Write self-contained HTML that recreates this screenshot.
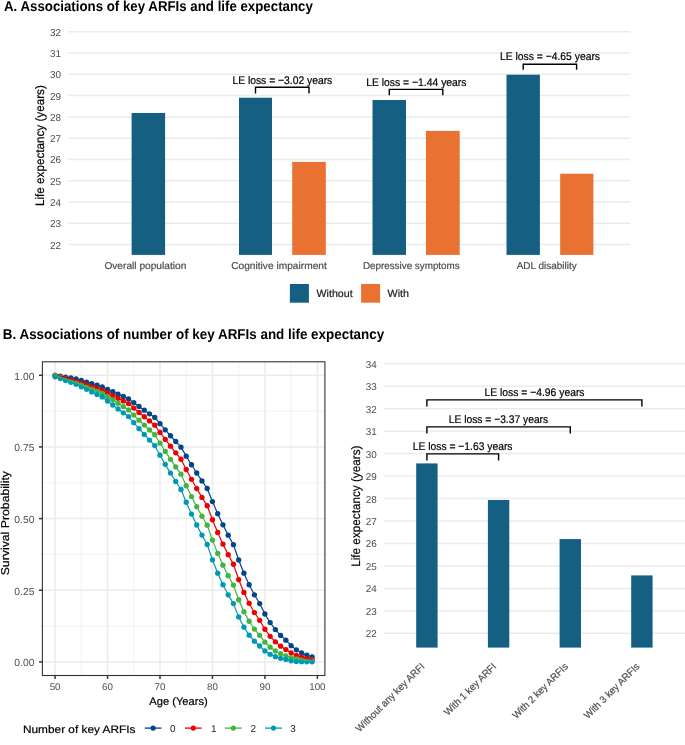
<!DOCTYPE html>
<html><head><meta charset="utf-8"><style>
html,body{margin:0;padding:0;background:#fff;width:685px;height:745px;overflow:hidden}
svg{display:block;will-change:transform}
text{font-family:"Liberation Sans",sans-serif;text-rendering:geometricPrecision}
</style></head><body>
<svg width="685" height="745" viewBox="0 0 685 745">
<rect width="685" height="745" fill="#fff"/>
<text x="4.00" y="10.90" font-size="14.35" font-weight="bold" fill="#000" text-anchor="start" textLength="308.8" lengthAdjust="spacingAndGlyphs">A. Associations of key ARFIs and life expectancy</text>
<line x1="68.2" x2="630.3" y1="244.50" y2="244.50" stroke="#EBEBEB" stroke-width="1.5"/>
<line x1="68.2" x2="630.3" y1="223.23" y2="223.23" stroke="#EBEBEB" stroke-width="1.5"/>
<line x1="68.2" x2="630.3" y1="201.96" y2="201.96" stroke="#EBEBEB" stroke-width="1.5"/>
<line x1="68.2" x2="630.3" y1="180.69" y2="180.69" stroke="#EBEBEB" stroke-width="1.5"/>
<line x1="68.2" x2="630.3" y1="159.42" y2="159.42" stroke="#EBEBEB" stroke-width="1.5"/>
<line x1="68.2" x2="630.3" y1="138.15" y2="138.15" stroke="#EBEBEB" stroke-width="1.5"/>
<line x1="68.2" x2="630.3" y1="116.88" y2="116.88" stroke="#EBEBEB" stroke-width="1.5"/>
<line x1="68.2" x2="630.3" y1="95.61" y2="95.61" stroke="#EBEBEB" stroke-width="1.5"/>
<line x1="68.2" x2="630.3" y1="74.34" y2="74.34" stroke="#EBEBEB" stroke-width="1.5"/>
<line x1="68.2" x2="630.3" y1="53.07" y2="53.07" stroke="#EBEBEB" stroke-width="1.5"/>
<line x1="68.2" x2="630.3" y1="31.80" y2="31.80" stroke="#EBEBEB" stroke-width="1.5"/>
<text x="61.00" y="248.50" font-size="9.94" fill="#4D4D4D" text-anchor="end">22</text>
<text x="61.00" y="227.23" font-size="9.94" fill="#4D4D4D" text-anchor="end">23</text>
<text x="61.00" y="205.96" font-size="9.94" fill="#4D4D4D" text-anchor="end">24</text>
<text x="61.00" y="184.69" font-size="9.94" fill="#4D4D4D" text-anchor="end">25</text>
<text x="61.00" y="163.42" font-size="9.94" fill="#4D4D4D" text-anchor="end">26</text>
<text x="61.00" y="142.15" font-size="9.94" fill="#4D4D4D" text-anchor="end">27</text>
<text x="61.00" y="120.88" font-size="9.94" fill="#4D4D4D" text-anchor="end">28</text>
<text x="61.00" y="99.61" font-size="9.94" fill="#4D4D4D" text-anchor="end">29</text>
<text x="61.00" y="78.34" font-size="9.94" fill="#4D4D4D" text-anchor="end">30</text>
<text x="61.00" y="57.07" font-size="9.94" fill="#4D4D4D" text-anchor="end">31</text>
<text x="61.00" y="35.80" font-size="9.94" fill="#4D4D4D" text-anchor="end">32</text>
<text x="43.70" y="206.00" font-size="12.24" fill="#000" stroke="#000" stroke-width="0.2" text-anchor="start" textLength="120.8" lengthAdjust="spacingAndGlyphs" transform="rotate(-90 43.70 206.00)">Life expectancy (years)</text>
<rect x="131.60" y="113.00" width="33.50" height="141.90" fill="#156082"/>
<rect x="239.00" y="97.70" width="33.00" height="157.20" fill="#156082"/>
<rect x="292.20" y="161.90" width="33.60" height="93.00" fill="#E97132"/>
<rect x="372.50" y="100.00" width="33.50" height="154.90" fill="#156082"/>
<rect x="426.00" y="130.90" width="33.70" height="124.00" fill="#E97132"/>
<rect x="506.50" y="74.70" width="33.40" height="180.20" fill="#156082"/>
<rect x="560.20" y="173.70" width="33.20" height="81.20" fill="#E97132"/>
<text x="104.40" y="268.80" font-size="9.94" fill="#4D4D4D" stroke="#4D4D4D" stroke-width="0.2" text-anchor="start" textLength="81.9" lengthAdjust="spacingAndGlyphs">Overall population</text>
<text x="231.20" y="268.80" font-size="9.94" fill="#4D4D4D" stroke="#4D4D4D" stroke-width="0.2" text-anchor="start" textLength="95.6" lengthAdjust="spacingAndGlyphs">Cognitive impairment</text>
<text x="362.90" y="268.80" font-size="9.94" fill="#4D4D4D" stroke="#4D4D4D" stroke-width="0.2" text-anchor="start" textLength="96.8" lengthAdjust="spacingAndGlyphs">Depressive symptoms</text>
<text x="516.70" y="268.80" font-size="9.94" fill="#4D4D4D" stroke="#4D4D4D" stroke-width="0.2" text-anchor="start" textLength="60.0" lengthAdjust="spacingAndGlyphs">ADL disability</text>
<text x="232.40" y="83.70" font-size="11.04" fill="#000" stroke="#000" stroke-width="0.2" text-anchor="start" textLength="99.9" lengthAdjust="spacingAndGlyphs">LE loss = −3.02 years</text>
<path d="M255.50 93.40V87.20H309.00V93.40" fill="none" stroke="#000" stroke-width="1.4"/>
<text x="366.20" y="85.90" font-size="11.04" fill="#000" stroke="#000" stroke-width="0.2" text-anchor="start" textLength="100.3" lengthAdjust="spacingAndGlyphs">LE loss = −1.44 years</text>
<path d="M389.30 95.20V89.40H442.80V95.20" fill="none" stroke="#000" stroke-width="1.4"/>
<text x="500.00" y="59.60" font-size="11.04" fill="#000" stroke="#000" stroke-width="0.2" text-anchor="start" textLength="100.0" lengthAdjust="spacingAndGlyphs">LE loss = −4.65 years</text>
<path d="M523.20 69.80V64.20H576.60V69.80" fill="none" stroke="#000" stroke-width="1.4"/>
<rect x="289.9" y="284.0" width="19.0" height="18.7" fill="#156082"/>
<rect x="361.1" y="284.0" width="19.0" height="18.7" fill="#E97132"/>
<text x="316.60" y="297.20" font-size="10.40" fill="#1A1A1A" stroke="#1A1A1A" stroke-width="0.2" text-anchor="start" textLength="36.0" lengthAdjust="spacingAndGlyphs">Without</text>
<text x="387.50" y="297.20" font-size="10.40" fill="#1A1A1A" stroke="#1A1A1A" stroke-width="0.2" text-anchor="start" textLength="21.5" lengthAdjust="spacingAndGlyphs">With</text>
<text x="2.80" y="338.70" font-size="14.35" font-weight="bold" fill="#000" text-anchor="start" textLength="381.4" lengthAdjust="spacingAndGlyphs">B. Associations of number of key ARFIs and life expectancy</text>
<line x1="81.33" x2="81.33" y1="361.80" y2="675.50" stroke="#EBEBEB" stroke-width="0.6"/>
<line x1="133.78" x2="133.78" y1="361.80" y2="675.50" stroke="#EBEBEB" stroke-width="0.6"/>
<line x1="186.22" x2="186.22" y1="361.80" y2="675.50" stroke="#EBEBEB" stroke-width="0.6"/>
<line x1="238.68" x2="238.68" y1="361.80" y2="675.50" stroke="#EBEBEB" stroke-width="0.6"/>
<line x1="291.12" x2="291.12" y1="361.80" y2="675.50" stroke="#EBEBEB" stroke-width="0.6"/>
<line x1="42.40" x2="324.90" y1="626.07" y2="626.07" stroke="#EBEBEB" stroke-width="0.6"/>
<line x1="42.40" x2="324.90" y1="554.42" y2="554.42" stroke="#EBEBEB" stroke-width="0.6"/>
<line x1="42.40" x2="324.90" y1="482.77" y2="482.77" stroke="#EBEBEB" stroke-width="0.6"/>
<line x1="42.40" x2="324.90" y1="411.12" y2="411.12" stroke="#EBEBEB" stroke-width="0.6"/>
<line x1="55.10" x2="55.10" y1="361.80" y2="675.50" stroke="#EBEBEB" stroke-width="1.5"/>
<line x1="107.55" x2="107.55" y1="361.80" y2="675.50" stroke="#EBEBEB" stroke-width="1.5"/>
<line x1="160.00" x2="160.00" y1="361.80" y2="675.50" stroke="#EBEBEB" stroke-width="1.5"/>
<line x1="212.45" x2="212.45" y1="361.80" y2="675.50" stroke="#EBEBEB" stroke-width="1.5"/>
<line x1="264.90" x2="264.90" y1="361.80" y2="675.50" stroke="#EBEBEB" stroke-width="1.5"/>
<line x1="317.35" x2="317.35" y1="361.80" y2="675.50" stroke="#EBEBEB" stroke-width="1.5"/>
<line x1="42.40" x2="324.90" y1="661.90" y2="661.90" stroke="#EBEBEB" stroke-width="1.5"/>
<line x1="42.40" x2="324.90" y1="590.25" y2="590.25" stroke="#EBEBEB" stroke-width="1.5"/>
<line x1="42.40" x2="324.90" y1="518.60" y2="518.60" stroke="#EBEBEB" stroke-width="1.5"/>
<line x1="42.40" x2="324.90" y1="446.95" y2="446.95" stroke="#EBEBEB" stroke-width="1.5"/>
<line x1="42.40" x2="324.90" y1="375.30" y2="375.30" stroke="#EBEBEB" stroke-width="1.5"/>
<circle cx="55.10" cy="375.30" r="2.65" fill="#00468B"/>
<circle cx="60.34" cy="376.18" r="2.65" fill="#00468B"/>
<circle cx="65.59" cy="377.05" r="2.65" fill="#00468B"/>
<circle cx="70.84" cy="377.92" r="2.65" fill="#00468B"/>
<circle cx="76.08" cy="378.79" r="2.65" fill="#00468B"/>
<circle cx="81.33" cy="380.42" r="2.65" fill="#00468B"/>
<circle cx="86.57" cy="382.05" r="2.65" fill="#00468B"/>
<circle cx="91.81" cy="383.66" r="2.65" fill="#00468B"/>
<circle cx="97.06" cy="385.27" r="2.65" fill="#00468B"/>
<circle cx="102.31" cy="386.87" r="2.65" fill="#00468B"/>
<circle cx="107.55" cy="389.31" r="2.65" fill="#00468B"/>
<circle cx="112.80" cy="391.74" r="2.65" fill="#00468B"/>
<circle cx="118.04" cy="394.14" r="2.65" fill="#00468B"/>
<circle cx="123.28" cy="396.52" r="2.65" fill="#00468B"/>
<circle cx="128.53" cy="398.88" r="2.65" fill="#00468B"/>
<circle cx="133.78" cy="402.71" r="2.65" fill="#00468B"/>
<circle cx="139.02" cy="406.47" r="2.65" fill="#00468B"/>
<circle cx="144.27" cy="410.19" r="2.65" fill="#00468B"/>
<circle cx="149.51" cy="413.85" r="2.65" fill="#00468B"/>
<circle cx="154.75" cy="417.46" r="2.65" fill="#00468B"/>
<circle cx="160.00" cy="423.71" r="2.65" fill="#00468B"/>
<circle cx="165.25" cy="429.80" r="2.65" fill="#00468B"/>
<circle cx="170.49" cy="435.73" r="2.65" fill="#00468B"/>
<circle cx="175.74" cy="441.51" r="2.65" fill="#00468B"/>
<circle cx="180.98" cy="447.15" r="2.65" fill="#00468B"/>
<circle cx="186.22" cy="456.14" r="2.65" fill="#00468B"/>
<circle cx="191.47" cy="464.76" r="2.65" fill="#00468B"/>
<circle cx="196.72" cy="473.02" r="2.65" fill="#00468B"/>
<circle cx="201.96" cy="480.93" r="2.65" fill="#00468B"/>
<circle cx="207.20" cy="488.51" r="2.65" fill="#00468B"/>
<circle cx="212.45" cy="501.58" r="2.65" fill="#00468B"/>
<circle cx="217.69" cy="513.66" r="2.65" fill="#00468B"/>
<circle cx="222.94" cy="524.84" r="2.65" fill="#00468B"/>
<circle cx="228.19" cy="535.16" r="2.65" fill="#00468B"/>
<circle cx="233.43" cy="544.72" r="2.65" fill="#00468B"/>
<circle cx="238.68" cy="559.96" r="2.65" fill="#00468B"/>
<circle cx="243.92" cy="573.22" r="2.65" fill="#00468B"/>
<circle cx="249.16" cy="584.76" r="2.65" fill="#00468B"/>
<circle cx="254.41" cy="594.80" r="2.65" fill="#00468B"/>
<circle cx="259.66" cy="603.53" r="2.65" fill="#00468B"/>
<circle cx="264.90" cy="613.98" r="2.65" fill="#00468B"/>
<circle cx="270.15" cy="622.57" r="2.65" fill="#00468B"/>
<circle cx="275.39" cy="629.62" r="2.65" fill="#00468B"/>
<circle cx="280.63" cy="635.40" r="2.65" fill="#00468B"/>
<circle cx="285.88" cy="640.15" r="2.65" fill="#00468B"/>
<circle cx="291.12" cy="645.71" r="2.65" fill="#00468B"/>
<circle cx="296.37" cy="649.85" r="2.65" fill="#00468B"/>
<circle cx="301.62" cy="652.93" r="2.65" fill="#00468B"/>
<circle cx="306.86" cy="655.23" r="2.65" fill="#00468B"/>
<circle cx="312.11" cy="656.93" r="2.65" fill="#00468B"/>
<circle cx="55.10" cy="375.30" r="2.65" fill="#ED0000"/>
<circle cx="60.34" cy="376.56" r="2.65" fill="#ED0000"/>
<circle cx="65.59" cy="377.82" r="2.65" fill="#ED0000"/>
<circle cx="70.84" cy="379.06" r="2.65" fill="#ED0000"/>
<circle cx="76.08" cy="380.31" r="2.65" fill="#ED0000"/>
<circle cx="81.33" cy="382.28" r="2.65" fill="#ED0000"/>
<circle cx="86.57" cy="384.24" r="2.65" fill="#ED0000"/>
<circle cx="91.81" cy="386.19" r="2.65" fill="#ED0000"/>
<circle cx="97.06" cy="388.12" r="2.65" fill="#ED0000"/>
<circle cx="102.31" cy="390.04" r="2.65" fill="#ED0000"/>
<circle cx="107.55" cy="392.80" r="2.65" fill="#ED0000"/>
<circle cx="112.80" cy="395.53" r="2.65" fill="#ED0000"/>
<circle cx="118.04" cy="398.24" r="2.65" fill="#ED0000"/>
<circle cx="123.28" cy="400.92" r="2.65" fill="#ED0000"/>
<circle cx="128.53" cy="403.57" r="2.65" fill="#ED0000"/>
<circle cx="133.78" cy="408.03" r="2.65" fill="#ED0000"/>
<circle cx="139.02" cy="412.42" r="2.65" fill="#ED0000"/>
<circle cx="144.27" cy="416.73" r="2.65" fill="#ED0000"/>
<circle cx="149.51" cy="420.97" r="2.65" fill="#ED0000"/>
<circle cx="154.75" cy="425.13" r="2.65" fill="#ED0000"/>
<circle cx="160.00" cy="432.38" r="2.65" fill="#ED0000"/>
<circle cx="165.25" cy="439.41" r="2.65" fill="#ED0000"/>
<circle cx="170.49" cy="446.22" r="2.65" fill="#ED0000"/>
<circle cx="175.74" cy="452.82" r="2.65" fill="#ED0000"/>
<circle cx="180.98" cy="459.23" r="2.65" fill="#ED0000"/>
<circle cx="186.22" cy="469.52" r="2.65" fill="#ED0000"/>
<circle cx="191.47" cy="479.29" r="2.65" fill="#ED0000"/>
<circle cx="196.72" cy="488.57" r="2.65" fill="#ED0000"/>
<circle cx="201.96" cy="497.38" r="2.65" fill="#ED0000"/>
<circle cx="207.20" cy="505.73" r="2.65" fill="#ED0000"/>
<circle cx="212.45" cy="519.73" r="2.65" fill="#ED0000"/>
<circle cx="217.69" cy="532.47" r="2.65" fill="#ED0000"/>
<circle cx="222.94" cy="544.07" r="2.65" fill="#ED0000"/>
<circle cx="228.19" cy="554.63" r="2.65" fill="#ED0000"/>
<circle cx="233.43" cy="564.24" r="2.65" fill="#ED0000"/>
<circle cx="238.68" cy="579.56" r="2.65" fill="#ED0000"/>
<circle cx="243.92" cy="592.47" r="2.65" fill="#ED0000"/>
<circle cx="249.16" cy="603.36" r="2.65" fill="#ED0000"/>
<circle cx="254.41" cy="612.54" r="2.65" fill="#ED0000"/>
<circle cx="259.66" cy="620.28" r="2.65" fill="#ED0000"/>
<circle cx="264.90" cy="629.26" r="2.65" fill="#ED0000"/>
<circle cx="270.15" cy="636.31" r="2.65" fill="#ED0000"/>
<circle cx="275.39" cy="641.83" r="2.65" fill="#ED0000"/>
<circle cx="280.63" cy="646.16" r="2.65" fill="#ED0000"/>
<circle cx="285.88" cy="649.56" r="2.65" fill="#ED0000"/>
<circle cx="291.12" cy="652.86" r="2.65" fill="#ED0000"/>
<circle cx="296.37" cy="655.28" r="2.65" fill="#ED0000"/>
<circle cx="301.62" cy="657.05" r="2.65" fill="#ED0000"/>
<circle cx="306.86" cy="658.35" r="2.65" fill="#ED0000"/>
<circle cx="312.11" cy="659.30" r="2.65" fill="#ED0000"/>
<circle cx="55.10" cy="375.32" r="2.65" fill="#42B540"/>
<circle cx="60.34" cy="377.16" r="2.65" fill="#42B540"/>
<circle cx="65.59" cy="378.99" r="2.65" fill="#42B540"/>
<circle cx="70.84" cy="380.80" r="2.65" fill="#42B540"/>
<circle cx="76.08" cy="382.61" r="2.65" fill="#42B540"/>
<circle cx="81.33" cy="384.69" r="2.65" fill="#42B540"/>
<circle cx="86.57" cy="386.76" r="2.65" fill="#42B540"/>
<circle cx="91.81" cy="388.82" r="2.65" fill="#42B540"/>
<circle cx="97.06" cy="390.85" r="2.65" fill="#42B540"/>
<circle cx="102.31" cy="392.88" r="2.65" fill="#42B540"/>
<circle cx="107.55" cy="396.38" r="2.65" fill="#42B540"/>
<circle cx="112.80" cy="399.83" r="2.65" fill="#42B540"/>
<circle cx="118.04" cy="403.24" r="2.65" fill="#42B540"/>
<circle cx="123.28" cy="406.61" r="2.65" fill="#42B540"/>
<circle cx="128.53" cy="409.93" r="2.65" fill="#42B540"/>
<circle cx="133.78" cy="415.09" r="2.65" fill="#42B540"/>
<circle cx="139.02" cy="420.15" r="2.65" fill="#42B540"/>
<circle cx="144.27" cy="425.11" r="2.65" fill="#42B540"/>
<circle cx="149.51" cy="429.96" r="2.65" fill="#42B540"/>
<circle cx="154.75" cy="434.71" r="2.65" fill="#42B540"/>
<circle cx="160.00" cy="443.22" r="2.65" fill="#42B540"/>
<circle cx="165.25" cy="451.42" r="2.65" fill="#42B540"/>
<circle cx="170.49" cy="459.30" r="2.65" fill="#42B540"/>
<circle cx="175.74" cy="466.89" r="2.65" fill="#42B540"/>
<circle cx="180.98" cy="474.20" r="2.65" fill="#42B540"/>
<circle cx="186.22" cy="485.74" r="2.65" fill="#42B540"/>
<circle cx="191.47" cy="496.57" r="2.65" fill="#42B540"/>
<circle cx="196.72" cy="506.73" r="2.65" fill="#42B540"/>
<circle cx="201.96" cy="516.27" r="2.65" fill="#42B540"/>
<circle cx="207.20" cy="525.22" r="2.65" fill="#42B540"/>
<circle cx="212.45" cy="540.10" r="2.65" fill="#42B540"/>
<circle cx="217.69" cy="553.35" r="2.65" fill="#42B540"/>
<circle cx="222.94" cy="565.17" r="2.65" fill="#42B540"/>
<circle cx="228.19" cy="575.69" r="2.65" fill="#42B540"/>
<circle cx="233.43" cy="585.08" r="2.65" fill="#42B540"/>
<circle cx="238.68" cy="599.77" r="2.65" fill="#42B540"/>
<circle cx="243.92" cy="611.65" r="2.65" fill="#42B540"/>
<circle cx="249.16" cy="621.26" r="2.65" fill="#42B540"/>
<circle cx="254.41" cy="629.03" r="2.65" fill="#42B540"/>
<circle cx="259.66" cy="635.32" r="2.65" fill="#42B540"/>
<circle cx="264.90" cy="642.13" r="2.65" fill="#42B540"/>
<circle cx="270.15" cy="647.20" r="2.65" fill="#42B540"/>
<circle cx="275.39" cy="650.97" r="2.65" fill="#42B540"/>
<circle cx="280.63" cy="653.77" r="2.65" fill="#42B540"/>
<circle cx="285.88" cy="655.85" r="2.65" fill="#42B540"/>
<circle cx="291.12" cy="657.60" r="2.65" fill="#42B540"/>
<circle cx="296.37" cy="658.89" r="2.65" fill="#42B540"/>
<circle cx="301.62" cy="659.75" r="2.65" fill="#42B540"/>
<circle cx="306.86" cy="660.38" r="2.65" fill="#42B540"/>
<circle cx="312.11" cy="660.81" r="2.65" fill="#42B540"/>
<circle cx="55.10" cy="376.73" r="2.65" fill="#0099B4"/>
<circle cx="60.34" cy="378.61" r="2.65" fill="#0099B4"/>
<circle cx="65.59" cy="380.48" r="2.65" fill="#0099B4"/>
<circle cx="70.84" cy="382.33" r="2.65" fill="#0099B4"/>
<circle cx="76.08" cy="384.17" r="2.65" fill="#0099B4"/>
<circle cx="81.33" cy="386.77" r="2.65" fill="#0099B4"/>
<circle cx="86.57" cy="389.35" r="2.65" fill="#0099B4"/>
<circle cx="91.81" cy="391.90" r="2.65" fill="#0099B4"/>
<circle cx="97.06" cy="394.42" r="2.65" fill="#0099B4"/>
<circle cx="102.31" cy="396.93" r="2.65" fill="#0099B4"/>
<circle cx="107.55" cy="400.99" r="2.65" fill="#0099B4"/>
<circle cx="112.80" cy="404.99" r="2.65" fill="#0099B4"/>
<circle cx="118.04" cy="408.93" r="2.65" fill="#0099B4"/>
<circle cx="123.28" cy="412.80" r="2.65" fill="#0099B4"/>
<circle cx="128.53" cy="416.62" r="2.65" fill="#0099B4"/>
<circle cx="133.78" cy="422.71" r="2.65" fill="#0099B4"/>
<circle cx="139.02" cy="428.65" r="2.65" fill="#0099B4"/>
<circle cx="144.27" cy="434.44" r="2.65" fill="#0099B4"/>
<circle cx="149.51" cy="440.09" r="2.65" fill="#0099B4"/>
<circle cx="154.75" cy="445.60" r="2.65" fill="#0099B4"/>
<circle cx="160.00" cy="455.19" r="2.65" fill="#0099B4"/>
<circle cx="165.25" cy="464.35" r="2.65" fill="#0099B4"/>
<circle cx="170.49" cy="473.11" r="2.65" fill="#0099B4"/>
<circle cx="175.74" cy="481.48" r="2.65" fill="#0099B4"/>
<circle cx="180.98" cy="489.48" r="2.65" fill="#0099B4"/>
<circle cx="186.22" cy="502.24" r="2.65" fill="#0099B4"/>
<circle cx="191.47" cy="514.05" r="2.65" fill="#0099B4"/>
<circle cx="196.72" cy="524.98" r="2.65" fill="#0099B4"/>
<circle cx="201.96" cy="535.11" r="2.65" fill="#0099B4"/>
<circle cx="207.20" cy="544.49" r="2.65" fill="#0099B4"/>
<circle cx="212.45" cy="559.83" r="2.65" fill="#0099B4"/>
<circle cx="217.69" cy="573.16" r="2.65" fill="#0099B4"/>
<circle cx="222.94" cy="584.76" r="2.65" fill="#0099B4"/>
<circle cx="228.19" cy="594.83" r="2.65" fill="#0099B4"/>
<circle cx="233.43" cy="603.60" r="2.65" fill="#0099B4"/>
<circle cx="238.68" cy="616.93" r="2.65" fill="#0099B4"/>
<circle cx="243.92" cy="627.21" r="2.65" fill="#0099B4"/>
<circle cx="249.16" cy="635.14" r="2.65" fill="#0099B4"/>
<circle cx="254.41" cy="641.26" r="2.65" fill="#0099B4"/>
<circle cx="259.66" cy="645.98" r="2.65" fill="#0099B4"/>
<circle cx="264.90" cy="650.92" r="2.65" fill="#0099B4"/>
<circle cx="270.15" cy="654.33" r="2.65" fill="#0099B4"/>
<circle cx="275.39" cy="656.68" r="2.65" fill="#0099B4"/>
<circle cx="280.63" cy="658.30" r="2.65" fill="#0099B4"/>
<circle cx="285.88" cy="659.42" r="2.65" fill="#0099B4"/>
<circle cx="291.12" cy="660.86" r="2.65" fill="#0099B4"/>
<circle cx="296.37" cy="661.47" r="2.65" fill="#0099B4"/>
<circle cx="301.62" cy="661.72" r="2.65" fill="#0099B4"/>
<circle cx="306.86" cy="661.82" r="2.65" fill="#0099B4"/>
<circle cx="312.11" cy="661.87" r="2.65" fill="#0099B4"/>
<path d="M55.10 375.30 L60.34 376.18 L65.59 377.05 L70.84 377.92 L76.08 378.79 L81.33 380.42 L86.57 382.05 L91.81 383.66 L97.06 385.27 L102.31 386.87 L107.55 389.31 L112.80 391.74 L118.04 394.14 L123.28 396.52 L128.53 398.88 L133.78 402.71 L139.02 406.47 L144.27 410.19 L149.51 413.85 L154.75 417.46 L160.00 423.71 L165.25 429.80 L170.49 435.73 L175.74 441.51 L180.98 447.15 L186.22 456.14 L191.47 464.76 L196.72 473.02 L201.96 480.93 L207.20 488.51 L212.45 501.58 L217.69 513.66 L222.94 524.84 L228.19 535.16 L233.43 544.72 L238.68 559.96 L243.92 573.22 L249.16 584.76 L254.41 594.80 L259.66 603.53 L264.90 613.98 L270.15 622.57 L275.39 629.62 L280.63 635.40 L285.88 640.15 L291.12 645.71 L296.37 649.85 L301.62 652.93 L306.86 655.23 L312.11 656.93" fill="none" stroke="#00468B" stroke-width="1.2" stroke-linejoin="round"/>
<path d="M55.10 375.30 L60.34 376.56 L65.59 377.82 L70.84 379.06 L76.08 380.31 L81.33 382.28 L86.57 384.24 L91.81 386.19 L97.06 388.12 L102.31 390.04 L107.55 392.80 L112.80 395.53 L118.04 398.24 L123.28 400.92 L128.53 403.57 L133.78 408.03 L139.02 412.42 L144.27 416.73 L149.51 420.97 L154.75 425.13 L160.00 432.38 L165.25 439.41 L170.49 446.22 L175.74 452.82 L180.98 459.23 L186.22 469.52 L191.47 479.29 L196.72 488.57 L201.96 497.38 L207.20 505.73 L212.45 519.73 L217.69 532.47 L222.94 544.07 L228.19 554.63 L233.43 564.24 L238.68 579.56 L243.92 592.47 L249.16 603.36 L254.41 612.54 L259.66 620.28 L264.90 629.26 L270.15 636.31 L275.39 641.83 L280.63 646.16 L285.88 649.56 L291.12 652.86 L296.37 655.28 L301.62 657.05 L306.86 658.35 L312.11 659.30" fill="none" stroke="#ED0000" stroke-width="1.2" stroke-linejoin="round"/>
<path d="M55.10 375.32 L60.34 377.16 L65.59 378.99 L70.84 380.80 L76.08 382.61 L81.33 384.69 L86.57 386.76 L91.81 388.82 L97.06 390.85 L102.31 392.88 L107.55 396.38 L112.80 399.83 L118.04 403.24 L123.28 406.61 L128.53 409.93 L133.78 415.09 L139.02 420.15 L144.27 425.11 L149.51 429.96 L154.75 434.71 L160.00 443.22 L165.25 451.42 L170.49 459.30 L175.74 466.89 L180.98 474.20 L186.22 485.74 L191.47 496.57 L196.72 506.73 L201.96 516.27 L207.20 525.22 L212.45 540.10 L217.69 553.35 L222.94 565.17 L228.19 575.69 L233.43 585.08 L238.68 599.77 L243.92 611.65 L249.16 621.26 L254.41 629.03 L259.66 635.32 L264.90 642.13 L270.15 647.20 L275.39 650.97 L280.63 653.77 L285.88 655.85 L291.12 657.60 L296.37 658.89 L301.62 659.75 L306.86 660.38 L312.11 660.81" fill="none" stroke="#42B540" stroke-width="1.2" stroke-linejoin="round"/>
<path d="M55.10 376.73 L60.34 378.61 L65.59 380.48 L70.84 382.33 L76.08 384.17 L81.33 386.77 L86.57 389.35 L91.81 391.90 L97.06 394.42 L102.31 396.93 L107.55 400.99 L112.80 404.99 L118.04 408.93 L123.28 412.80 L128.53 416.62 L133.78 422.71 L139.02 428.65 L144.27 434.44 L149.51 440.09 L154.75 445.60 L160.00 455.19 L165.25 464.35 L170.49 473.11 L175.74 481.48 L180.98 489.48 L186.22 502.24 L191.47 514.05 L196.72 524.98 L201.96 535.11 L207.20 544.49 L212.45 559.83 L217.69 573.16 L222.94 584.76 L228.19 594.83 L233.43 603.60 L238.68 616.93 L243.92 627.21 L249.16 635.14 L254.41 641.26 L259.66 645.98 L264.90 650.92 L270.15 654.33 L275.39 656.68 L280.63 658.30 L285.88 659.42 L291.12 660.86 L296.37 661.47 L301.62 661.72 L306.86 661.82 L312.11 661.87" fill="none" stroke="#0099B4" stroke-width="1.2" stroke-linejoin="round"/>
<rect x="42.40" y="361.80" width="282.50" height="313.70" fill="none" stroke="#333333" stroke-width="1.1"/>
<line x1="39.0" x2="42.40" y1="661.90" y2="661.90" stroke="#333333" stroke-width="1.5"/>
<text x="34.40" y="666.30" font-size="10.30" fill="#4D4D4D" text-anchor="end">0.00</text>
<line x1="39.0" x2="42.40" y1="590.25" y2="590.25" stroke="#333333" stroke-width="1.5"/>
<text x="34.40" y="594.65" font-size="10.30" fill="#4D4D4D" text-anchor="end">0.25</text>
<line x1="39.0" x2="42.40" y1="518.60" y2="518.60" stroke="#333333" stroke-width="1.5"/>
<text x="34.40" y="523.00" font-size="10.30" fill="#4D4D4D" text-anchor="end">0.50</text>
<line x1="39.0" x2="42.40" y1="446.95" y2="446.95" stroke="#333333" stroke-width="1.5"/>
<text x="34.40" y="451.35" font-size="10.30" fill="#4D4D4D" text-anchor="end">0.75</text>
<line x1="39.0" x2="42.40" y1="375.30" y2="375.30" stroke="#333333" stroke-width="1.5"/>
<text x="34.40" y="379.70" font-size="10.30" fill="#4D4D4D" text-anchor="end">1.00</text>
<line x1="55.10" x2="55.10" y1="675.50" y2="678.9" stroke="#333333" stroke-width="1.5"/>
<text x="55.10" y="690.10" font-size="9.75" fill="#4D4D4D" text-anchor="middle">50</text>
<line x1="107.55" x2="107.55" y1="675.50" y2="678.9" stroke="#333333" stroke-width="1.5"/>
<text x="107.55" y="690.10" font-size="9.75" fill="#4D4D4D" text-anchor="middle">60</text>
<line x1="160.00" x2="160.00" y1="675.50" y2="678.9" stroke="#333333" stroke-width="1.5"/>
<text x="160.00" y="690.10" font-size="9.75" fill="#4D4D4D" text-anchor="middle">70</text>
<line x1="212.45" x2="212.45" y1="675.50" y2="678.9" stroke="#333333" stroke-width="1.5"/>
<text x="212.45" y="690.10" font-size="9.75" fill="#4D4D4D" text-anchor="middle">80</text>
<line x1="264.90" x2="264.90" y1="675.50" y2="678.9" stroke="#333333" stroke-width="1.5"/>
<text x="264.90" y="690.10" font-size="9.75" fill="#4D4D4D" text-anchor="middle">90</text>
<line x1="317.35" x2="317.35" y1="675.50" y2="678.9" stroke="#333333" stroke-width="1.5"/>
<text x="317.35" y="690.10" font-size="9.75" fill="#4D4D4D" text-anchor="middle">100</text>
<text x="149.30" y="704.60" font-size="11.00" fill="#000" stroke="#000" stroke-width="0.2" text-anchor="start" textLength="58.4" lengthAdjust="spacingAndGlyphs">Age (Years)</text>
<text x="8.70" y="575.30" font-size="11.40" fill="#000" stroke="#000" stroke-width="0.2" text-anchor="start" textLength="104.3" lengthAdjust="spacingAndGlyphs" transform="rotate(-90 8.70 575.30)">Survival Probability</text>
<text x="23.00" y="732.80" font-size="10.90" fill="#000" stroke="#000" stroke-width="0.2" text-anchor="start" textLength="112.4" lengthAdjust="spacingAndGlyphs">Number of key ARFIs</text>
<line x1="144.70" x2="161.50" y1="728.1" y2="728.1" stroke="#00468B" stroke-width="1.3"/>
<circle cx="153.10" cy="728.1" r="2.6" fill="#00468B"/>
<text x="170.10" y="731.90" font-size="9.94" fill="#1A1A1A" text-anchor="start">0</text>
<line x1="184.90" x2="201.70" y1="728.1" y2="728.1" stroke="#ED0000" stroke-width="1.3"/>
<circle cx="193.30" cy="728.1" r="2.6" fill="#ED0000"/>
<text x="211.00" y="731.90" font-size="9.94" fill="#1A1A1A" text-anchor="start">1</text>
<line x1="224.90" x2="241.70" y1="728.1" y2="728.1" stroke="#42B540" stroke-width="1.3"/>
<circle cx="233.30" cy="728.1" r="2.6" fill="#42B540"/>
<text x="250.40" y="731.90" font-size="9.94" fill="#1A1A1A" text-anchor="start">2</text>
<line x1="265.10" x2="281.90" y1="728.1" y2="728.1" stroke="#0099B4" stroke-width="1.3"/>
<circle cx="273.50" cy="728.1" r="2.6" fill="#0099B4"/>
<text x="290.30" y="731.90" font-size="9.94" fill="#1A1A1A" text-anchor="start">3</text>
<line x1="384.0" x2="685" y1="633.36" y2="633.36" stroke="#EBEBEB" stroke-width="1.5"/>
<text x="376.70" y="637.36" font-size="9.94" fill="#4D4D4D" text-anchor="end">22</text>
<line x1="384.0" x2="685" y1="610.89" y2="610.89" stroke="#EBEBEB" stroke-width="1.5"/>
<text x="376.70" y="614.89" font-size="9.94" fill="#4D4D4D" text-anchor="end">23</text>
<line x1="384.0" x2="685" y1="588.42" y2="588.42" stroke="#EBEBEB" stroke-width="1.5"/>
<text x="376.70" y="592.42" font-size="9.94" fill="#4D4D4D" text-anchor="end">24</text>
<line x1="384.0" x2="685" y1="565.95" y2="565.95" stroke="#EBEBEB" stroke-width="1.5"/>
<text x="376.70" y="569.95" font-size="9.94" fill="#4D4D4D" text-anchor="end">25</text>
<line x1="384.0" x2="685" y1="543.48" y2="543.48" stroke="#EBEBEB" stroke-width="1.5"/>
<text x="376.70" y="547.48" font-size="9.94" fill="#4D4D4D" text-anchor="end">26</text>
<line x1="384.0" x2="685" y1="521.01" y2="521.01" stroke="#EBEBEB" stroke-width="1.5"/>
<text x="376.70" y="525.01" font-size="9.94" fill="#4D4D4D" text-anchor="end">27</text>
<line x1="384.0" x2="685" y1="498.54" y2="498.54" stroke="#EBEBEB" stroke-width="1.5"/>
<text x="376.70" y="502.54" font-size="9.94" fill="#4D4D4D" text-anchor="end">28</text>
<line x1="384.0" x2="685" y1="476.07" y2="476.07" stroke="#EBEBEB" stroke-width="1.5"/>
<text x="376.70" y="480.07" font-size="9.94" fill="#4D4D4D" text-anchor="end">29</text>
<line x1="384.0" x2="685" y1="453.60" y2="453.60" stroke="#EBEBEB" stroke-width="1.5"/>
<text x="376.70" y="457.60" font-size="9.94" fill="#4D4D4D" text-anchor="end">30</text>
<line x1="384.0" x2="685" y1="431.13" y2="431.13" stroke="#EBEBEB" stroke-width="1.5"/>
<text x="376.70" y="435.13" font-size="9.94" fill="#4D4D4D" text-anchor="end">31</text>
<line x1="384.0" x2="685" y1="408.66" y2="408.66" stroke="#EBEBEB" stroke-width="1.5"/>
<text x="376.70" y="412.66" font-size="9.94" fill="#4D4D4D" text-anchor="end">32</text>
<line x1="384.0" x2="685" y1="386.19" y2="386.19" stroke="#EBEBEB" stroke-width="1.5"/>
<text x="376.70" y="390.19" font-size="9.94" fill="#4D4D4D" text-anchor="end">33</text>
<line x1="384.0" x2="685" y1="363.72" y2="363.72" stroke="#EBEBEB" stroke-width="1.5"/>
<text x="376.70" y="367.72" font-size="9.94" fill="#4D4D4D" text-anchor="end">34</text>
<text x="360.00" y="566.80" font-size="12.24" fill="#000" stroke="#000" stroke-width="0.2" text-anchor="start" textLength="121.2" lengthAdjust="spacingAndGlyphs" transform="rotate(-90 360.00 566.80)">Life expectancy (years)</text>
<rect x="416.20" y="463.40" width="21.4" height="184.20" fill="#156082"/>
<rect x="487.90" y="500.00" width="21.4" height="147.60" fill="#156082"/>
<rect x="559.60" y="539.10" width="21.4" height="108.50" fill="#156082"/>
<rect x="631.20" y="575.40" width="21.4" height="72.20" fill="#156082"/>
<text x="412.80" y="449.70" font-size="11.04" fill="#000" stroke="#000" stroke-width="0.2" text-anchor="start" textLength="99.7" lengthAdjust="spacingAndGlyphs">LE loss = −1.63 years</text>
<path d="M426.90 460.50V453.90H498.60V460.50" fill="none" stroke="#000" stroke-width="1.4"/>
<text x="448.70" y="422.70" font-size="11.04" fill="#000" stroke="#000" stroke-width="0.2" text-anchor="start" textLength="99.5" lengthAdjust="spacingAndGlyphs">LE loss = −3.37 years</text>
<path d="M426.90 433.50V426.90H570.30V433.50" fill="none" stroke="#000" stroke-width="1.4"/>
<text x="484.50" y="395.50" font-size="11.04" fill="#000" stroke="#000" stroke-width="0.2" text-anchor="start" textLength="100.0" lengthAdjust="spacingAndGlyphs">LE loss = −4.96 years</text>
<path d="M426.90 406.50V399.90H641.90V406.50" fill="none" stroke="#000" stroke-width="1.4"/>
<text x="425.20" y="667.10" font-size="9.94" fill="#4D4D4D" stroke="#4D4D4D" stroke-width="0.2" text-anchor="end" textLength="92.5" lengthAdjust="spacingAndGlyphs" transform="rotate(-45 425.20 667.10)">Without any key ARFI</text>
<text x="496.90" y="667.10" font-size="9.94" fill="#4D4D4D" stroke="#4D4D4D" stroke-width="0.2" text-anchor="end" textLength="69.0" lengthAdjust="spacingAndGlyphs" transform="rotate(-45 496.90 667.10)">With 1 key ARFI</text>
<text x="568.60" y="667.10" font-size="9.94" fill="#4D4D4D" stroke="#4D4D4D" stroke-width="0.2" text-anchor="end" textLength="73.8" lengthAdjust="spacingAndGlyphs" transform="rotate(-45 568.60 667.10)">With 2 key ARFIs</text>
<text x="640.20" y="667.10" font-size="9.94" fill="#4D4D4D" stroke="#4D4D4D" stroke-width="0.2" text-anchor="end" textLength="73.8" lengthAdjust="spacingAndGlyphs" transform="rotate(-45 640.20 667.10)">With 3 key ARFIs</text>
</svg></body></html>
